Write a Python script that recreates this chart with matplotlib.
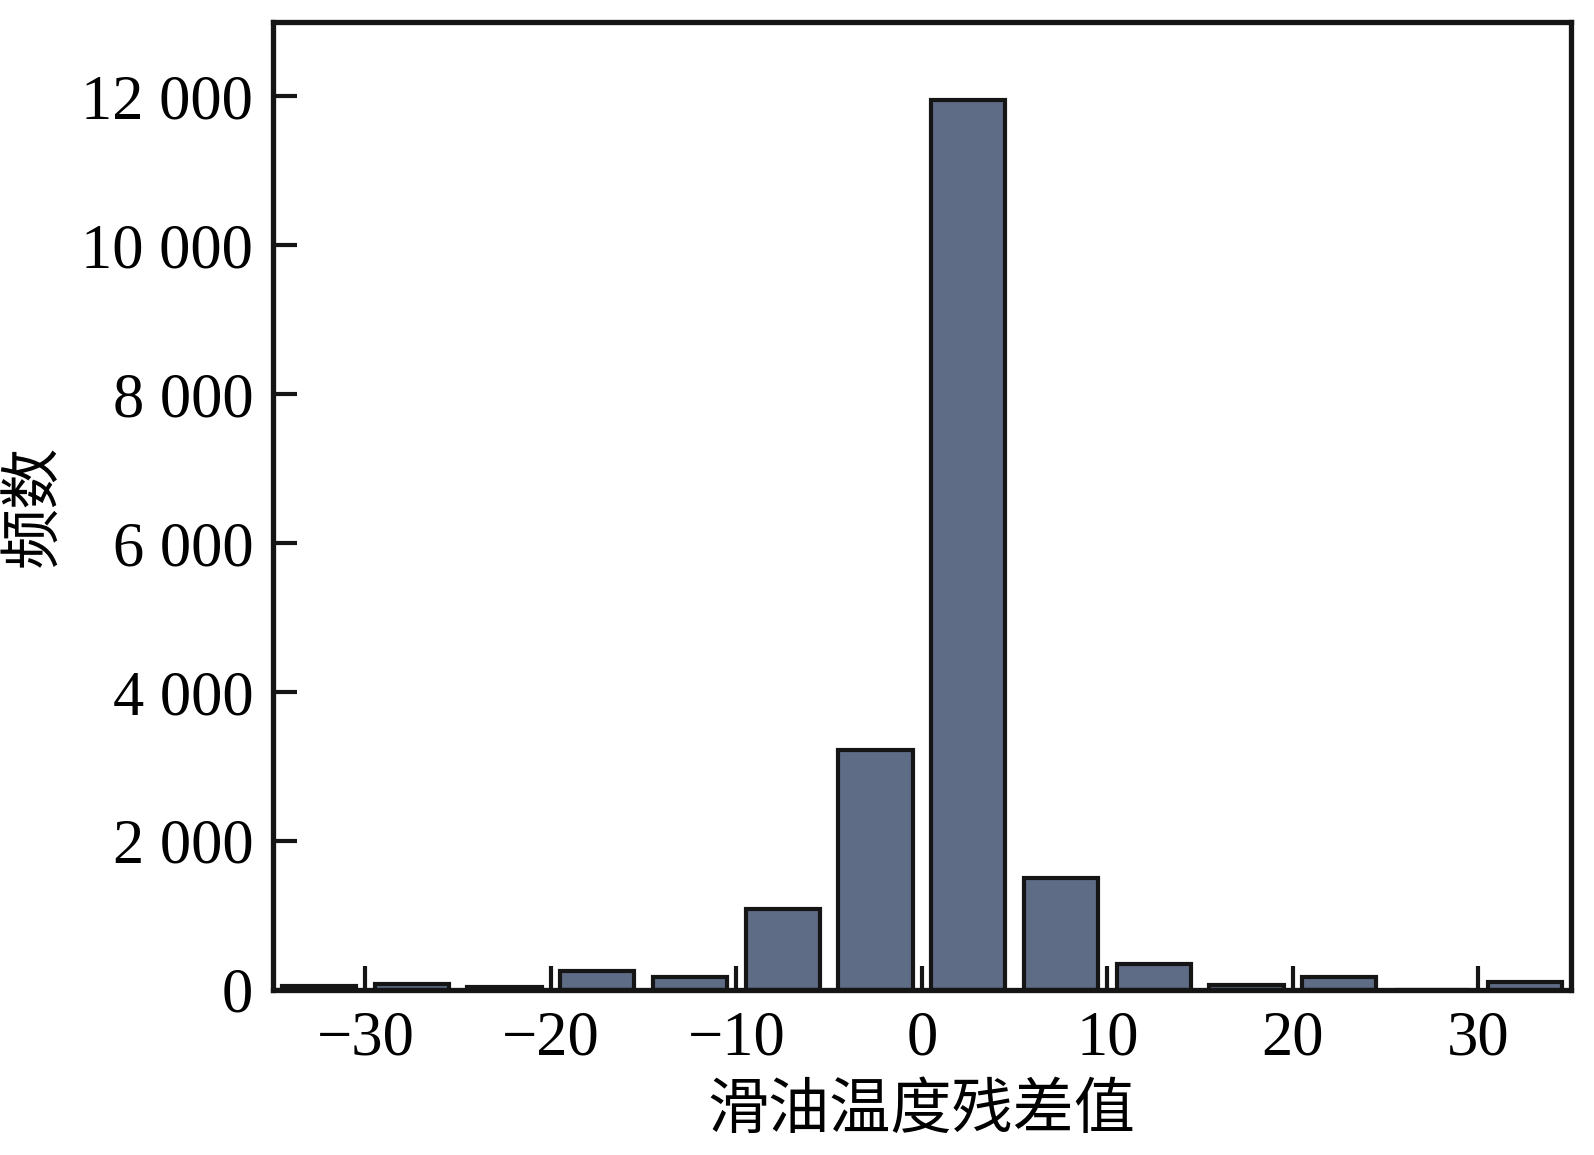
import matplotlib
matplotlib.use("Agg")
import matplotlib.pyplot as plt
from matplotlib.ticker import FuncFormatter

# Data
bin_edges = [-35, -30, -25, -20, -15, -10, -5, 0, 5, 10, 15, 20, 25, 30, 35]
counts = [50, 80, 40, 250, 170, 1090, 3220, 11950, 1500, 350, 60, 170, 0, 110]
x_ticks = [-30, -20, -10, 0, 10, 20, 30]
y_ticks = [0, 2000, 4000, 6000, 8000, 10000, 12000]
x_label = "滑油温度残差值"
y_label = "频数"

plt.rcParams['font.family'] = ['Liberation Serif', 'Noto Sans CJK SC', 'DejaVu Sans']

fig = plt.figure(figsize=(15.94, 11.55), dpi=100)
ax = fig.add_axes([0.171, 0.143, 0.8146, 0.838])

centers = [(a + b) / 2 for a, b in zip(bin_edges[:-1], bin_edges[1:])]
widths = [(b - a) * 0.8 for a, b in zip(bin_edges[:-1], bin_edges[1:])]
ax.bar(centers, counts, width=widths, color='#5f6c86', edgecolor='#151515',
       linewidth=3.0, zorder=1)

ax.set_xlim(-35, 35)
ax.set_ylim(0, 13000)
ax.set_xticks(x_ticks)
ax.set_yticks(y_ticks)

ax.yaxis.set_major_formatter(FuncFormatter(
    lambda v, p: f"{int(v):,}".replace(",", " ")))

ax.tick_params(axis='both', which='major', direction='in', length=17, width=3,
               labelsize=45, color='#151515')
ax.tick_params(axis='x', pad=15)
ax.tick_params(axis='y', pad=14)
ax.xaxis.set_zorder(3)

for s in ax.spines.values():
    s.set_linewidth(3.8)
    s.set_color('#151515')
    s.set_zorder(4)

ax.set_xlabel(x_label, fontsize=44, family=['Noto Sans CJK SC'], labelpad=8)
ax.set_ylabel(y_label, fontsize=44, family=['Noto Sans CJK SC'], labelpad=12)

fig.savefig("out.png", dpi=100, facecolor='white')
